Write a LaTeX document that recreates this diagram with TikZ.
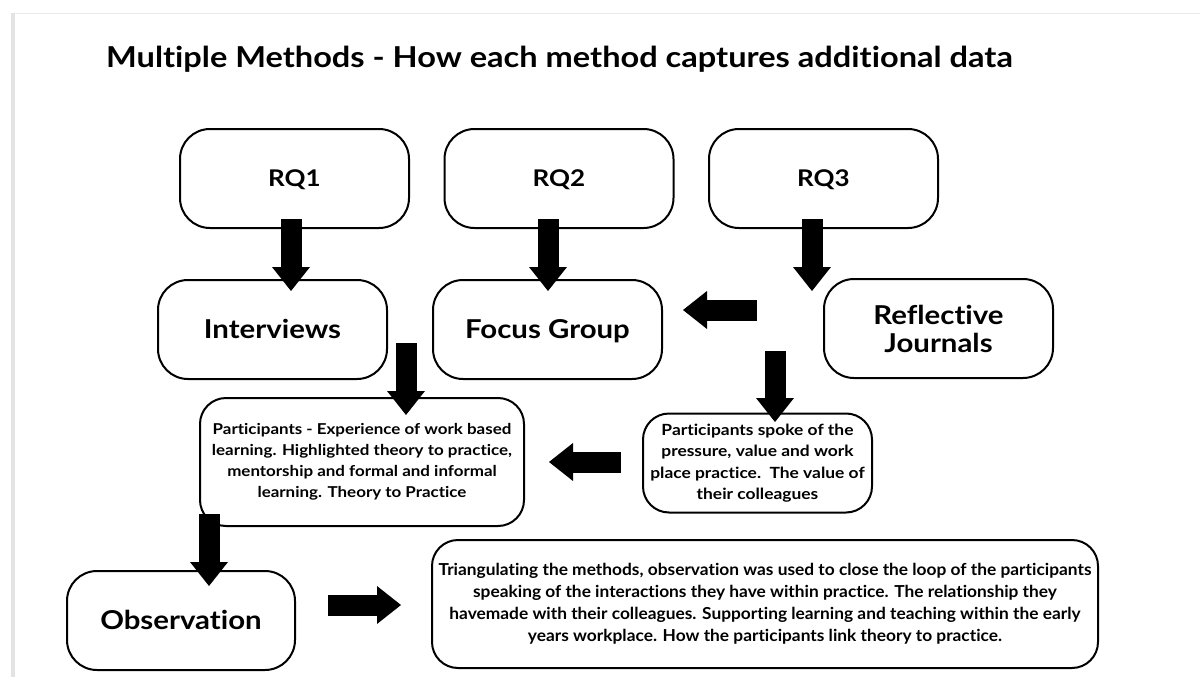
\documentclass[tikz,border=0pt]{standalone}
\usepackage{fontspec}
\setmainfont{Lato}[Ligatures=NoCommon, FakeStretch=1.13]
\newfontfamily\narrowfont{Lato}[Ligatures=NoCommon, FakeStretch=1.05]
\usetikzlibrary{arrows.meta}

\tikzset{
  box/.style={draw=black, line width=2pt, rounded corners=30pt, fill=white,
    align=center, inner sep=0pt, font=\bfseries\fontsize{26}{28}\selectfont},
  oneline/.style={text height=18.5pt, text depth=0pt},
  rqbox/.style={box, oneline, minimum width=229pt, minimum height=99pt,
    text height=16.5pt, font=\bfseries\fontsize{23}{26}\selectfont},
  methodbox/.style={box, minimum width=229pt, minimum height=99pt},
  notebox/.style={box, rounded corners=26pt, font=\bfseries\fontsize{15}{21}\selectfont},
  blk/.style={line width=21pt, black,
    -{Triangle[length=24pt, width=38pt, line width=0pt]}}
}

\begin{document}
\begin{tikzpicture}[x=1pt, y=-1pt]
  \useasboundingbox (0,0) rectangle (1200,677);
  \fill[white] (0,0) rectangle (1200,677);

  % page frame
  \fill[black!8] (11,13) rectangle (1200,14.5);
  \fill[black!11] (11,13) rectangle (15,677);

  % heading
  \node[anchor=base west, inner sep=0pt, font=\bfseries\fontsize{28.8}{34}\selectfont]
    (title) at (106,68) {Multiple Methods - How each method captures additional data};

  % research questions
  \node[rqbox] (rq1) at (294.5,178.5) {RQ1};
  \node[rqbox] (rq2) at (559,178.5) {RQ2};
  \node[rqbox] (rq3) at (823.5,178.5) {RQ3};

  % methods
  \node[methodbox, oneline] (int) at (272.5,329.5) {Interviews};
  \node[methodbox, oneline] (fg) at (547.5,329.5) {Focus Group};
  \node[methodbox] (rj) at (938.5,328.5) {Reflective\\Journals};
  \node[methodbox, oneline, minimum width=228pt] (obs) at (181,620.5) {Observation};

  % findings
  \node[notebox, minimum width=324pt, minimum height=128pt] (exp) at (362,462)
    {Participants - Experience of work based\\
     learning. Highlighted theory to practice,\\
     mentorship and formal and informal\\
     learning. Theory to Practice};
  \node[notebox, minimum width=229pt, minimum height=99pt,
        font=\bfseries\fontsize{15.4}{21.5}\selectfont] (spoke) at (757.5,463)
    {Participants spoke of the\\
     pressure, value and work\\
     place practice.\ \ The value of\\
     their colleagues};
  \node[notebox, minimum width=666pt, minimum height=128pt,
        font=\narrowfont\bfseries\fontsize{16.5}{22}\selectfont] (tri) at (765,604)
    {Triangulating the methods, observation was used to close the loop of the participants\\
     speaking of the interactions they have within practice. The relationship they\\
     havemade with their colleagues. Supporting learning and teaching within the early\\
     years workplace. How the participants link theory to practice.};

  % arrow end points
  \coordinate (a1s) at (291,219);  \coordinate (a1e) at (291,291);
  \coordinate (a2s) at (548,219);  \coordinate (a2e) at (548,291);
  \coordinate (a3s) at (812,219);  \coordinate (a3e) at (812,291);
  \coordinate (a4s) at (757,310);  \coordinate (a4e) at (683,310);
  \coordinate (a5s) at (406,343);  \coordinate (a5e) at (406,415);
  \coordinate (a6s) at (775,351);  \coordinate (a6e) at (775,422);
  \coordinate (a7s) at (621,462);  \coordinate (a7e) at (549,462);
  \coordinate (a8s) at (209,514);  \coordinate (a8e) at (209,586);
  \coordinate (a9s) at (328,605);  \coordinate (a9e) at (401,605);

  % block arrows
  \draw[blk] (a1s) -- (a1e);
  \draw[blk] (a2s) -- (a2e);
  \draw[blk] (a3s) -- (a3e);
  \draw[blk] (a4s) -- (a4e);
  \draw[blk] (a5s) -- (a5e);
  \draw[blk] (a6s) -- (a6e);
  \draw[blk] (a7s) -- (a7e);
  \draw[blk] (a8s) -- (a8e);
  \draw[blk] (a9s) -- (a9e);
\end{tikzpicture}
\end{document}
